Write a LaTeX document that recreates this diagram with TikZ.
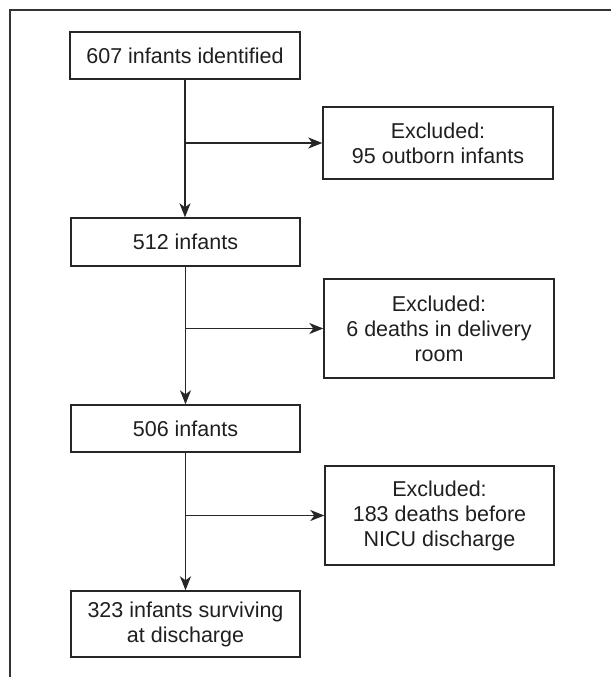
\documentclass[tikz,border=0pt]{standalone}
\usepackage{fontspec}
\setmainfont{Liberation Sans}
\usetikzlibrary{arrows.meta}
\begin{document}
\begin{tikzpicture}[x=1pt,y=-1pt,
  box/.style={draw=black!85,line width=1.4pt,rectangle,align=center,inner sep=0pt,
    font=\fontsize{21.5}{25}\selectfont,text=black!88},
  flow/.style={draw=black!85,line width=1.4pt,-{Stealth[length=14pt,width=11pt,inset=4pt]}},
  frameline/.style={draw=black!80,line width=1.4pt}]
\useasboundingbox (0,0) rectangle (611,677);
\draw[frameline] (10,677) -- (10,10) -- (611,10);
\node[box,minimum width=230pt,minimum height=47pt] (b1) at (185,55.5) {607 infants identified};
\node[box,minimum width=229pt,minimum height=48pt] (b2) at (185.5,242) {512 infants};
\node[box,minimum width=229pt,minimum height=47pt] (b3) at (185.5,428.5) {506 infants};
\node[box,minimum width=229pt,minimum height=66pt] (b4) at (185.5,624) {323 infants surviving\\at discharge};
\node[box,minimum width=230pt,minimum height=72pt] (e1) at (438,143) {Excluded:\\95 outborn infants};
\node[box,minimum width=230pt,minimum height=99pt] (e2) at (439,328.5) {Excluded:\\6 deaths in delivery\\room};
\node[box,minimum width=229pt,minimum height=99pt] (e3) at (439.5,515.5) {Excluded:\\183 deaths before\\NICU discharge};
\coordinate (j1) at (185,143);
\coordinate (j2) at (186,328.5);
\coordinate (j3) at (186,515.5);
\draw[flow] (b1.south) -- (b1.south |- b2.north);
\draw[flow] (b2.south) -- (b2.south |- b3.north);
\draw[flow] (b3.south) -- (b3.south |- b4.north);
\draw[flow] (j1) -- (e1.west);
\draw[flow] (j2) -- (e2.west);
\draw[flow] (j3) -- (e3.west);
\end{tikzpicture}
\end{document}
